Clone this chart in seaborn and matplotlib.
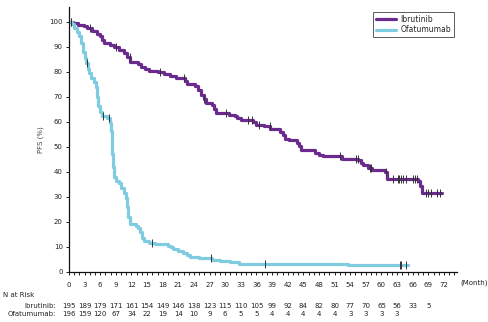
import numpy as np
import pandas as pd
import matplotlib
matplotlib.use("Agg")
import matplotlib.pyplot as plt
import matplotlib.transforms as mtransforms
from matplotlib.ticker import MultipleLocator
import seaborn as sns

# Kaplan-Meier step data: time (months) at which survival changes, and PFS (%) from then on
ibr_time = [0, 0.8, 1.8, 2.8, 3.5, 4.5, 5.3, 6.0, 6.4, 6.8, 7.8, 8.6, 9.6, 10.5, 11.2, 11.8,
            13.2, 13.8, 14.6, 15.4, 17.0, 18.2, 19.3, 20.5, 22.3, 22.6, 24.2, 24.8, 25.4, 25.9,
            26.4, 27.4, 27.8, 28.3, 30.8, 31.8, 32.3, 33.0, 35.4, 36.0, 37.5, 38.6, 40.5, 41.0,
            41.5, 42.3, 43.7, 44.2, 44.6, 47.3, 48.0, 48.7, 52.4, 55.5, 56.0, 56.5, 57.4, 58.2,
            60.6, 61.0, 67.0, 67.4, 67.7, 71.7]
ibr_pfs = [100, 99.5, 98.9, 98.3, 97.6, 96.4, 95.3, 94.4, 92.6, 91.4, 90.8, 89.8, 88.7, 87.6, 85.8, 84.0,
           83.3, 82.0, 81.0, 80.3, 80.0, 79.0, 78.3, 77.6, 76.2, 75.0, 74.2, 72.6, 70.8, 69.3,
           67.5, 66.7, 65.2, 63.6, 62.9, 62.2, 61.5, 60.7, 60.0, 58.8, 58.2, 57.3, 56.0, 54.7,
           53.3, 52.6, 51.5, 50.2, 48.6, 47.7, 46.9, 46.2, 45.3, 44.7, 43.7, 42.6, 41.6, 40.8,
           39.8, 37.2, 36.4, 34.3, 31.6, 31.6]
ibr_censor = [0.3, 4.0, 9.1, 11.7, 17.5, 22.0, 25.9, 30.2, 34.3, 35.1, 36.5, 38.5, 52.0, 55.2,
              55.45, 57.7, 58.0, 60.9, 62.2, 63.2, 63.4, 63.8, 64.2, 64.7, 66.1, 66.4, 66.9,
              68.6, 69.0, 69.6, 70.6, 71.2]

ofa_time = [0, 0.5, 1.0, 1.5, 2.0, 2.4, 2.7, 3.0, 3.3, 3.6, 3.8, 4.3, 4.8, 5.2, 5.4, 5.6, 5.9,
            6.3, 7.3, 7.8, 8.1, 8.2, 8.3, 8.5, 8.7, 9.0, 9.6, 10.0, 10.5, 11.0, 11.2, 11.4, 11.7,
            12.8, 13.3, 13.7, 14.0, 14.4, 15.3, 16.5, 19.0, 19.5, 20.0, 21.0, 21.8, 22.6, 23.2,
            25.0, 27.5, 29.0, 31.0, 32.6, 53.5, 65.1]
ofa_pfs = [100, 99.0, 97.5, 96.0, 94.2, 91.5, 88.0, 85.6, 83.4, 81.0, 79.5, 77.5, 76.0, 74.0, 70.0,
           66.5, 64.0, 62.5, 61.5, 59.5, 56.5, 52.0, 47.0, 42.0, 38.0, 36.5, 35.5, 33.5, 31.5,
           29.5, 26.0, 22.0, 19.0, 18.4, 17.5, 16.0, 13.5, 12.2, 11.6, 11.0, 10.5, 9.8, 9.2,
           8.5, 7.7, 6.9, 5.9, 5.4, 4.9, 4.3, 3.8, 3.3, 2.7, 2.7]
ofa_censor = [0.4, 3.5, 6.6, 7.75, 16.0, 27.3, 37.6, 63.5, 63.8, 64.8]

# Numbers at risk every 3 months
risk_months = list(range(0, 72, 3))
ibr_risk = [195, 189, 179, 171, 161, 154, 149, 146, 138, 123, 115, 110, 105, 99, 92, 84, 82,
            80, 77, 70, 65, 56, 33, 5]
ofa_risk = [196, 159, 120, 67, 34, 22, 19, 14, 10, 9, 6, 5, 5, 4, 4, 4, 4, 4, 3, 3, 3, 3]

groups = ["Ibrutinib", "Ofatumumab"]
colors = {"Ibrutinib": "#6a2a8e", "Ofatumumab": "#7fcce0"}

sns.set_style("ticks")
plt.rcParams["font.family"] = ["DejaVu Sans"]
txt = "#222222"

fig = plt.figure(figsize=(4.89, 3.22), dpi=100)
ax = fig.add_axes([69 / 489, 50 / 322, 388 / 489, 265 / 322])

curves = pd.concat([
    pd.DataFrame({"month": ibr_time, "pfs": ibr_pfs, "arm": "Ibrutinib"}),
    pd.DataFrame({"month": ofa_time, "pfs": ofa_pfs, "arm": "Ofatumumab"}),
])
sns.lineplot(data=curves, x="month", y="pfs", hue="arm", hue_order=groups, palette=colors,
             estimator=None, sort=False, drawstyle="steps-post", linewidth=2.3, ax=ax,
             legend=True)


def step_value(times, values, t):
    idx = np.searchsorted(times, t, side="right") - 1
    return np.asarray(values)[idx]


cens = pd.concat([
    pd.DataFrame({"month": ibr_censor, "pfs": step_value(ibr_time, ibr_pfs, ibr_censor)}),
    pd.DataFrame({"month": ofa_censor, "pfs": step_value(ofa_time, ofa_pfs, ofa_censor)}),
])
sns.scatterplot(data=cens, x="month", y="pfs", marker="|", s=38, color="#333333",
                linewidth=0.7, ax=ax, legend=False, zorder=5)

ax.set_xlim(0, 74.5)
ax.set_ylim(0, 105.9)
ax.set_yticks(range(0, 101, 10))
ax.set_xticks(range(0, 73, 3))
ax.xaxis.set_minor_locator(MultipleLocator(1))
ax.tick_params(axis="both", which="both", direction="out", length=2.5, width=0.7,
               colors="#222222", labelsize=5, pad=2)
ax.tick_params(axis="x", which="major", pad=4.5)
for lab in ax.get_xticklabels() + ax.get_yticklabels():
    lab.set_color(txt)
sns.despine(ax=ax)
for s in ("left", "bottom"):
    ax.spines[s].set_linewidth(0.9)
    ax.spines[s].set_color("#111111")

ax.set_xlabel("")
ax.set_ylabel("PFS (%)", fontsize=5, color="#444444", labelpad=4)

leg = ax.legend(loc="upper right", bbox_to_anchor=(0.992, 0.981), borderaxespad=0,
                fontsize=5.5, frameon=True, fancybox=False, handlelength=2.6,
                handletextpad=0.6, borderpad=0.4, labelspacing=0.15, title=None)
leg.get_frame().set_edgecolor("#333333")
leg.get_frame().set_linewidth(0.7)
for h in leg.get_lines():
    h.set_linewidth(2.3)

fig.text(460 / 489, 1 - 283 / 322, "(Month)", fontsize=5, color=txt, ha="left", va="center")

# Numbers-at-risk table below the axis
row_ibr = 1 - 306 / 322
row_ofa = 1 - 314 / 322
trans = mtransforms.blended_transform_factory(ax.transData, fig.transFigure)
fig.text(3 / 489, 1 - 295 / 322, "N at Risk", fontsize=5, color=txt, ha="left", va="center")
fig.text(56 / 489, row_ibr, "Ibrutinib:", fontsize=5, color=txt, ha="right", va="center")
fig.text(56 / 489, row_ofa, "Ofatumumab:", fontsize=5, color=txt, ha="right", va="center")
for m, n in zip(risk_months, ibr_risk):
    ax.text(m, row_ibr, str(n), transform=trans, fontsize=5, color=txt,
            ha="center", va="center", clip_on=False)
for m, n in zip(risk_months, ofa_risk):
    ax.text(m, row_ofa, str(n), transform=trans, fontsize=5, color=txt,
            ha="center", va="center", clip_on=False)

fig.savefig("out.png", dpi=100)
